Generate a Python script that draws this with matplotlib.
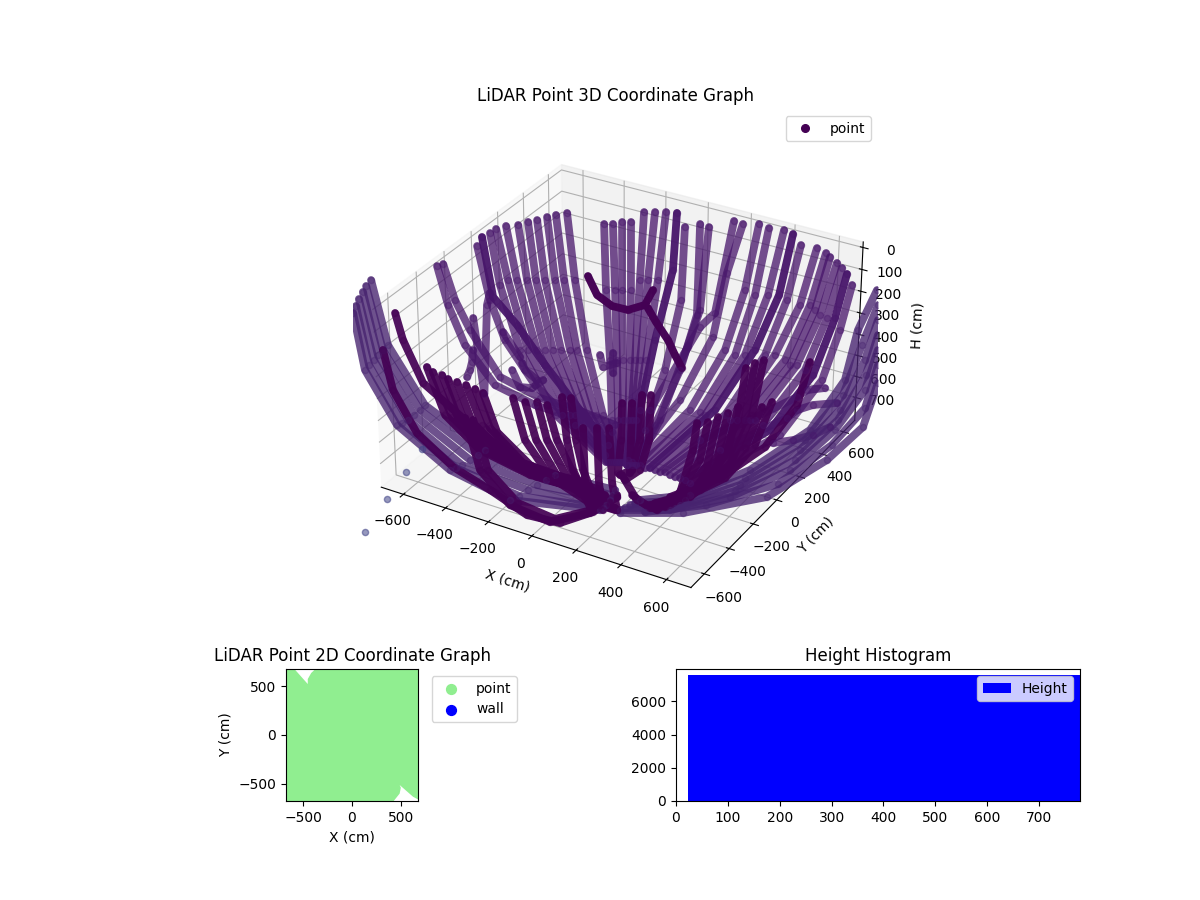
import matplotlib
matplotlib.use('Agg')
import matplotlib.pyplot as plt
from matplotlib.lines import Line2D

# Scan arcs: each arc is a list of (X cm, Y cm, H cm) readings.
BACK_ARCS = [
[(-668,685,185),(-547,544,410),(-329,273,555),(-112,34,680),(64,-116,770)],
[(-689,629,175),(-582,513,405),(-360,245,550),(-137,20,680),(57,-120,770)],
[(-686,552,150),(-610,486,400),(-385,231,550),(-153,0,675),(50,-124,770)],
[(-687,474,130),(-637,449,390),(-408,197,540),(-167,-17,670),(43,-128,770)],
[(-690,407,110),(-665,422,385),(-437,180,540),(-185,-27,670),(36,-132,770)],
[(-690,330,90),(-688,388,375),(-461,156,535),(-198,-45,665),(29,-136,770)],
[(-687,232,50),(-690,312,340),(-485,132,530),(-215,-55,665),(22,-140,770)],
[(-687,156,30),(-687,238,305),(-513,106,525),(-235,-85,655),(15,-144,770)],
[(-689,113,30),(-688,177,300),(-532,75,515),(-252,-105,650),(8,-148,770)],
[(-688,51,20),(-687,121,330),(-621,196,480),(-438,117,580),(-222,35,690),(-50,-31,770)],
[(-689,15,45),(-689,100,335),(-597,63,480),(-397,-29,590),(-183,-70,695),(-22,-104,770)],
[(-686,-239,10),(-687,-162,210),(-688,-57,400),(-509,-117,540),(-356,-57,625),(-220,56,710),(-105,119,770)],
[(-687,-281,0),(-688,-211,210),(-678,-113,440),(-497,-175,545),(-345,-115,625),(-199,-4,710),(-87,65,770)],
[(-485,684,190),(-393,541,415),(-217,272,570),(-69,32,690),(43,-128,770)],
[(-443,686,180),(-360,560,415),(-192,286,570),(-47,45,690),(54,-122,770)],
[(-399,687,160),(-339,583,420),(-175,306,575),(-30,55,690),(64,-116,770)],
[(-357,689,150),(-307,602,420),(-150,321,575),(-12,65,690),(75,-110,770)],
[(-292,685,85),(-309,682,410),(-136,339,580),(-2,71,690),(93,-126,770)],
[(-243,691,75),(-275,691,405),(-118,349,580),(6,75,690),(93,-126,770)],
[(-189,688,60),(-225,688,390),(-97,361,580),(16,81,690),(100,-122,770)],
[(-136,686,50),(-155,691,325),(-112,465,540),(7,129,670),(110,-116,770)],
[(-97,685,105),(-90,647,430),(12,329,580),(78,46,700),(110,-116,770)],
[(-28,689,75),(4,614,460),(66,360,580),(102,86,690),(117,-111,770)],
[(17,683,75),(3,642,450),(40,474,525),(109,116,680),(124,-107,770)],
[(130,688,20),(61,667,460),(31,593,500),(31,490,545),(35,164,680),(77,-91,770)],
[(170,691,25),(102,689,270),(114,553,505),(138,229,635),(99,-96,770)],
[(245,689,5),(189,686,325),(196,506,520),(204,195,645),(124,-107,770)],
[(292,686,10),(237,685,335),(252,490,520),(247,200,645),(138,-99,770)],
[(362,684,0),(296,687,320),(291,502,515),(280,183,640),(167,-109,770)],
[(401,688,10),(348,685,305),(315,544,505),(304,223,630),(184,-99,770)],
[(439,687,50),(383,688,320),(378,512,495),(362,202,625),(209,-102,770)],
[(511,687,45),(445,685,325),(417,525,490),(394,184,630),(234,-105,770)],
[(554,684,55),(489,689,315),(472,509,490),(422,191,625),(251,-95,770)],
[(571,687,70),(514,686,330),(508,483,490),(454,200,620),(279,-105,770)],
[(602,689,90),(539,683,345),(540,481,480),(496,205,610),(304,-108,770)],
[(627,686,105),(567,691,355),(587,461,480),(545,180,605),(325,-105,770)],
[(651,684,125),(603,691,345),(633,442,480),(587,159,605),(349,-108,770)],
[(675,686,170),(657,627,355),(690,408,470),(647,131,595),(377,-117,770)],
[(688,442,525),(688,277,450),(689,185,435),(494,166,590),(255,190,770)],
[(690,559,655),(688,336,550),(691,186,495),(684,112,495),(362,162,770)],
[(690,502,740),(690,344,695),(691,159,620),(524,318,770)],
[(-199,-510,220),(-355,-210,495),(-431,2,630),(-552,284,770)],
[(-194,-445,220),(-363,-157,445),(-574,271,770)],
[(-389,-273,220),(-688,320,715)],
[(36,-239,220),(-165,125,515),(-354,565,770)],
[(72,-200,220),(-326,483,770)],
[(-553,-236,220),(-687,35,750),(-687,73,345),(-687,97,300)],
[(-321,-642,220),(-526,-311,415),(-688,-50,555),(-690,-37,505)],
]
DARK_BACK = [9, 20, 29, 36]
WALL_ARCS = [
[(-847,-509,0),(-689,-638,185),(-546,-609,430),(-272,-605,555),(-40,-463,675),(145,-311,770)],
[(-836,-559,0),(-689,-673,190),(-537,-657,425),(-271,-657,550),(-43,-526,665),(153,-349,770)],
[(-819,-606,0),(-699,-694,205),(-545,-687,435),(-287,-690,560),(-50,-581,660),(165,-384,770)],
[(-800,-661,0),(-711,-706,225),(-573,-689,465),(-326,-690,595),(-53,-643,650),(169,-424,770)],
[(-778,-713,0),(-726,-719,245),(-605,-686,490),(-356,-687,620),(-65,-690,655),(170,-448,770)],
[(-761,-757,5),(-738,-731,265),(-628,-688,505),(-387,-685,640),(-109,-686,690),(167,-467,770)],
[(758,748,200),(702,704,380),(690,626,580),(690,314,655),(669,-167,590),(476,-298,695),(267,-325,770)],
[(760,762,275),(719,713,450),(690,614,645),(690,272,680),(679,-229,590),(480,-346,690),(261,-354,770)],
[(762,763,345),(729,728,525),(690,591,705),(689,230,705),(686,-283,590),(481,-387,690),(251,-376,770)],
[(765,765,415),(736,729,595),(690,576,745),(689,188,730),(690,-331,590),(474,-415,690),(245,-405,770)],
[(768,765,485),(733,734,670),(690,551,780),(688,147,755),(690,-371,595),(464,-438,690),(235,-427,770)],
[(772,765,555),(738,733,755),(728,446,785),(688,44,765),(590,-378,660),(327,-391,770)],
[(772,773,645),(776,637,785),(762,333,785),(690,-56,770),(537,-465,665),(246,-446,770)],
]
FRONT_ARCS = [
[(-689,-580,70),(-691,-532,215),(-676,-427,460),(-420,-462,570),(-193,-477,655),(93,-341,770)],
[(-689,-673,190),(-680,-631,390),(-536,-686,515),(-370,-687,620),(-198,-690,670),(-33,-686,735),(119,-690,720),(178,-539,735),(178,-352,770)],
[(-576,-541,300),(-445,-619,440),(-276,-636,540),(-95,-559,640),(129,-363,770)],
[(-534,-562,300),(-413,-618,440),(-244,-634,540),(-68,-551,645),(136,-375,770)],
[(-490,-564,300),(-384,-620,435),(-220,-629,540),(-46,-529,655),(147,-378,770)],
[(-453,-578,300),(-356,-621,435),(-193,-621,545),(-25,-525,660),(151,-384,770)],
[(-410,-580,300),(-320,-618,435),(-166,-613,550),(2,-517,665),(158,-388,770)],
[(-367,-582,300),(-279,-611,440),(-131,-610,555),(26,-511,670),(169,-399,770)],
[(-320,-590,300),(-245,-607,445),(-101,-599,565),(49,-496,680),(176,-403,770)],
[(-277,-600,300),(-205,-619,445),(-74,-591,570),(69,-492,685),(183,-416,770)],
[(-305,-689,375),(-245,-686,595),(-107,-691,710),(74,-690,730),(187,-577,715),(178,-352,770)],
[(-270,-686,375),(-205,-691,580),(-71,-689,690),(96,-688,710),(183,-555,715),(170,-339,770)],
[(-156,-575,300),(-97,-588,465),(22,-600,590),(155,-523,710),(211,-425,770)],
[(-100,-577,300),(-60,-566,465),(44,-578,595),(168,-506,720),(211,-425,770)],
[(-60,-554,300),(-28,-538,470),(66,-547,605),(181,-506,720),(218,-437,770)],
[(-15,-554,300),(10,-526,465),(93,-531,605),(188,-502,720),(225,-433,770)],
[(3,-474,300),(1,-437,515),(40,-457,630),(122,-468,770)],
[(37,-463,300),(32,-419,515),(74,-438,630),(153,-458,770)],
[(191,-631,300),(117,-495,645),(132,-462,770)],
[(237,-605,300),(168,-475,640),(177,-461,770)],
[(277,-582,300),(212,-449,640),(225,-433,770)],
[(227,-397,300),(131,-239,580),(92,-196,770)],
[(260,-378,300),(165,-220,580),(133,-172,770)],
[(263,-306,300),(204,-216,570),(173,-224,715),(106,-205,770)],
[(293,-289,300),(243,-212,560),(216,-236,695),(142,-227,770)],
[(548,-383,300),(536,-391,420),(536,-490,560),(458,-530,640),(314,-433,695),(113,-201,770)],
[(580,-356,300),(552,-363,475),(491,-447,630),(379,-444,705),(222,-309,770)],
[(596,-304,300),(552,-304,530),(474,-360,675),(347,-346,770)],
[(615,-259,300),(569,-247,510),(501,-305,660),(377,-320,770)],
[(627,-200,300),(589,-202,505),(529,-274,645),(387,-298,770)],
[(514,79,300),(539,-28,475),(540,-214,605),(452,-335,705),(319,-337,770)],
[(526,132,300),(559,-7,480),(560,-194,610),(479,-304,700),(329,-315,770)],
[(546,170,300),(569,33,475),(573,-153,605),(500,-260,685),(342,-299,770)],
[(688,294,330),(688,191,475),(663,-31,560),(537,-165,670),(359,-247,770)],
[(689,-34,345),(662,-117,505),(565,-176,655),(420,-195,770)],
[(688,-117,325),(635,-149,510),(545,-197,650),(410,-217,770)],
]
INNER_ARCS = [
[(-365,346,250),(-399,477,410),(-397,598,520),(-371,688,575),(-285,684,525),(-249,688,445)],
[(-16,232,250),(-71,398,410),(-91,538,570),(-97,611,680),(-93,666,770)],
]
STRAY_X = [-689, -647, -601, -542]
STRAY_Y = [-436, -614, -818, -1057]
STRAY_H = [770, 770, 770, 770]

COVER_X = [-676,-590,-453,-453,-418,-375,676,676,625,488,500,488,427,-676]
COVER_Y = [676,676,522,573,635,676,676,-660,-632,-512,-540,-600,-676,-676]

HIST_MIN, HIST_MAX, HIST_COUNT = 23, 782, 7567

fig = plt.figure(figsize=(12, 9), dpi=100)
ax = fig.add_axes([353/1200, (900-634)/900, 525/1200, 525/900], projection='3d')

def draw(arc, color, alpha):
    xs, ys, hs = zip(*arc)
    ax.plot(xs, ys, hs, color=color, lw=5.6, alpha=alpha, solid_capstyle='round', solid_joinstyle='round')
    ax.scatter(xs, ys, hs, color=color, s=20, alpha=min(alpha, .35), depthshade=False)

for i, arc in enumerate(BACK_ARCS):
    draw(arc, '#47156a', .95 if i in DARK_BACK else .75)
for arc in WALL_ARCS:
    draw(arc, '#47236f', .78)
for arc in FRONT_ARCS:
    draw(arc, '#440154', .93)
for arc in INNER_ARCS:
    draw(arc, '#440154', .98)
ax.scatter(STRAY_X, STRAY_Y, STRAY_H, color='#414487', s=20, alpha=.55, depthshade=False)

ax.set_xlim(-706, 706); ax.set_ylim(-706, 706); ax.set_zlim(810, -25)
ax.set_aspect('equal')
ax.set_xticks(range(-600, 601, 200)); ax.set_yticks(range(-600, 601, 200)); ax.set_zticks(range(0, 701, 100))
ax.set_title('LiDAR Point 3D Coordinate Graph')
ax.set_xlabel('X (cm)'); ax.set_ylabel('Y (cm)'); ax.set_zlabel('H (cm)')
ax.legend(handles=[Line2D([], [], ls='', marker='o', ms=5.5, color='#440154', label='point')], loc='upper right')

a2 = fig.add_axes([150/1200, 99/900, 404/1200, 132/900])
a2.fill(COVER_X, COVER_Y, color='lightgreen', lw=0)
a2.scatter([], [], c='lightgreen', s=50, label='point')
a2.scatter([], [], c='blue', s=50, label='wall')
a2.set_xlim(-676, 676); a2.set_ylim(-676, 676); a2.set_aspect('equal')
a2.set_title('LiDAR Point 2D Coordinate Graph'); a2.set_xlabel('X (cm)'); a2.set_ylabel('Y (cm)')
a2.legend(bbox_to_anchor=(1.05, 1), loc='upper left')

a3 = fig.add_axes([676/1200, 99/900, 404/1200, 132/900])
a3.bar([(HIST_MIN+HIST_MAX)/2], [HIST_COUNT], width=HIST_MAX-HIST_MIN, color='blue', label='Height')
a3.set_xlim(0, 779); a3.set_ylim(0, 7945)
a3.set_title('Height Histogram'); a3.legend(loc='upper right')
plt.savefig('out.png', dpi=100)
